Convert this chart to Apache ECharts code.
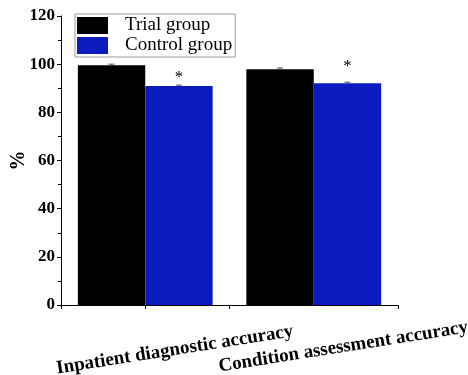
<!DOCTYPE html>
<html><head><meta charset="utf-8">
<script src="https://cdn.jsdelivr.net/npm/echarts@6/dist/echarts.min.js"></script>
<style>html,body{margin:0;padding:0;background:#fff}#c{width:468px;height:375px}</style>
</head><body><div id="c"></div>
<script>
const categories = ['Inpatient diagnostic accuracy', 'Condition assessment accuracy'];
const seriesNames = ['Trial group', 'Control group'];
const trialValues = [99.6, 97.9];
const controlValues = [90.9, 92.1];
const trialErrors = [0.4, 0.5];
const controlErrors = [0.4, 0.4];
const significance = ['*', '*'];
const yTicks = [0, 20, 40, 60, 80, 100, 120];

const serif = '"Liberation Serif", "Times New Roman", serif';
const blue = '#0a1cc0';
// label anchors are shifted right of the category centre, as in the original figure
const labelShift = 0.175;

function errSeries(values, errs, idx) {
  return {
    type: 'custom', xAxisIndex: 0, z: 5, silent: true,
    data: values.map((v, i) => [i, v, errs[i]]),
    renderItem: function (params, api) {
      const i = api.value(0), v = api.value(1), e = api.value(2);
      const size = api.size([1, 0]);
      const bw = size[0] * 0.4;
      const cx = api.coord([i, 0])[0] + (idx === 0 ? -bw / 2 : bw / 2);
      const top = api.coord([i, v + e]);
      const mid = api.coord([i, v]);
      const half = 3;
      return {
        type: 'group', children: [
          { type: 'line', shape: { x1: cx, y1: mid[1], x2: cx, y2: top[1] }, style: { stroke: '#555', lineWidth: 1 } },
          { type: 'line', shape: { x1: cx - half, y1: top[1], x2: cx + half, y2: top[1] }, style: { stroke: '#555', lineWidth: 1 } }
        ]
      };
    }
  };
}

function labelAxis(idx, margin) {
  return {
    type: 'value', min: 0, max: categories.length, position: 'bottom',
    axisLine: { show: false }, splitLine: { show: false },
    axisTick: { show: false },
    axisLabel: {
      show: true, customValues: [idx + 0.5 + labelShift],
      rotate: 9, align: 'center', verticalAlign: 'middle', margin: margin,
      fontFamily: serif, fontWeight: 'bold', fontSize: 19, color: '#000',
      formatter: () => categories[idx]
    }
  };
}

const chart = echarts.init(document.getElementById('c'));
chart.setOption({
  animation: false,
  backgroundColor: '#fff',
  grid: { left: 61, right: 70, top: 16, bottom: 70, containLabel: false, outerBoundsMode: 'none' },
  legend: {
    data: seriesNames,
    orient: 'vertical', left: 75, top: 14,
    itemWidth: 31, itemHeight: 17, itemGap: 1,
    padding: [2, 3, 2, 2],
    backgroundColor: '#fff', borderColor: '#999', borderWidth: 1,
    icon: 'rect',
    textStyle: { fontFamily: serif, fontSize: 19, lineHeight: 17, color: '#000', padding: [0, 0, 0, 12] }
  },
  xAxis: [{
    type: 'category', data: categories,
    boundaryGap: true,
    axisLine: { lineStyle: { color: '#000', width: 1 } },
    axisTick: { show: true, interval: 0, length: 4, lineStyle: { color: '#000' } },
    axisLabel: { show: false }
  }, {
    type: 'category', data: categories, position: 'bottom',
    boundaryGap: true,
    axisLine: { show: false },
    axisTick: { show: true, alignWithLabel: true, length: 4, lineStyle: { color: '#000' } },
    axisLabel: { show: false }
  },
  labelAxis(0, 45),
  labelAxis(1, 42)
  ],
  yAxis: {
    type: 'value', min: 0, max: 120, interval: 20,
    name: '%', nameLocation: 'middle', nameGap: 32, nameRotate: 90, nameMoveOverlap: false,
    nameTextStyle: { fontFamily: serif, fontWeight: 'bold', fontSize: 20, color: '#000' },
    axisLine: { show: true, lineStyle: { color: '#000', width: 1 } },
    axisTick: { show: true, length: 4, lineStyle: { color: '#000' } },
    minorTick: { show: true, splitNumber: 2, length: 3, lineStyle: { color: '#000' } },
    splitLine: { show: false },
    axisLabel: {
      margin: 6, fontFamily: serif, fontWeight: 'bold', fontSize: 17, color: '#000',
      formatter: v => yTicks.includes(v) ? String(v) : ''
    }
  },
  series: [
    {
      name: seriesNames[0], type: 'bar', data: trialValues, barWidth: '40%', barGap: '0%',
      itemStyle: { color: '#000' }
    },
    {
      name: seriesNames[1], type: 'bar', data: controlValues.map((v, i) => ({
        value: v,
        label: { show: true, position: 'top', distance: i === 0 ? 0 : 8, formatter: significance[i] }
      })), barWidth: '40%', barGap: '0%',
      itemStyle: { color: blue },
      label: { fontFamily: serif, fontSize: 17, color: '#000' }
    },
    errSeries(trialValues, trialErrors, 0),
    errSeries(controlValues, controlErrors, 1)
  ]
});
</script></body></html>
